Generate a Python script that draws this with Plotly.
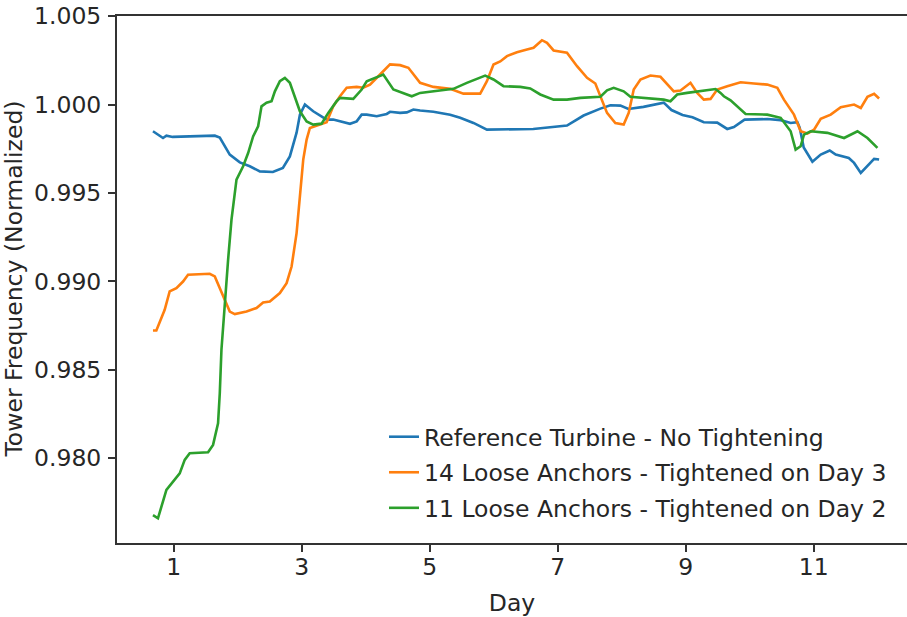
import plotly.graph_objects as go

# ---- data ----
ref_days = [0.676, 0.833, 0.886, 0.984, 1.642, 1.720, 1.876, 2.033, 2.189, 2.346, 2.549, 2.706,
            2.815, 2.920, 2.972, 3.050, 3.180, 3.390, 3.493, 3.754, 3.859, 3.937, 4.016, 4.172,
            4.329, 4.380, 4.537, 4.642, 4.745, 4.850, 5.058, 5.319, 5.476, 5.684, 5.894, 6.102,
            6.618, 7.145, 7.405, 7.667, 7.823, 7.980, 8.105, 8.340, 8.554, 8.657, 8.778, 8.950,
            9.106, 9.283, 9.493, 9.649, 9.753, 9.920, 10.275, 10.484, 10.640, 10.745, 10.781,
            10.844, 10.980, 11.110, 11.250, 11.344, 11.548, 11.631, 11.736, 11.840, 11.944, 12.022]
ref_freq = [0.99849, 0.99811, 0.99824, 0.99817, 0.99824, 0.99813, 0.99717, 0.99673, 0.99651, 0.99622,
            0.99619, 0.99642, 0.99707, 0.99841, 0.99943, 1.00000, 0.99962, 0.99915, 0.99915, 0.99891,
            0.99905, 0.99943, 0.99943, 0.99934, 0.99947, 0.99959, 0.99953, 0.99956, 0.99972, 0.99966,
            0.99959, 0.99943, 0.99925, 0.99896, 0.99858, 0.99858, 0.99862, 0.99881, 0.99938, 0.99977,
            0.99996, 0.99994, 0.99975, 0.99987, 1.00004, 1.00011, 0.99969, 0.99941, 0.99928, 0.99900,
            0.99898, 0.99862, 0.99873, 0.99915, 0.99918, 0.99912, 0.99896, 0.99900, 0.99870, 0.99757,
            0.99677, 0.99717, 0.99740, 0.99717, 0.99698, 0.99670, 0.99613, 0.99651, 0.99693, 0.99689]

a14_days = [0.676, 0.729, 0.859, 0.937, 1.042, 1.146, 1.224, 1.563, 1.642, 1.772, 1.876, 1.955,
            2.138, 2.294, 2.397, 2.502, 2.659, 2.764, 2.842, 2.920, 2.972, 3.024, 3.077, 3.128,
            3.285, 3.390, 3.493, 3.598, 3.703, 3.859, 3.962, 4.067, 4.224, 4.380, 4.537, 4.667,
            4.850, 5.058, 5.319, 5.527, 5.789, 5.894, 5.997, 6.102, 6.207, 6.363, 6.520, 6.623,
            6.754, 6.833, 6.936, 7.145, 7.302, 7.459, 7.588, 7.667, 7.771, 7.901, 8.031, 8.110,
            8.188, 8.293, 8.449, 8.606, 8.710, 8.814, 8.919, 9.075, 9.180, 9.283, 9.388, 9.493,
            9.649, 9.858, 10.066, 10.275, 10.432, 10.535, 10.692, 10.796, 10.901, 11.005, 11.110,
            11.266, 11.423, 11.631, 11.736, 11.840, 11.944, 12.022]
a14_freq = [0.98722, 0.98722, 0.98839, 0.98943, 0.98962, 0.98999, 0.99037, 0.99043, 0.99028, 0.98914,
            0.98829, 0.98815, 0.98829, 0.98849, 0.98880, 0.98886, 0.98934, 0.98990, 0.99084, 0.99273,
            0.99462, 0.99689, 0.99802, 0.99868, 0.99887, 0.99900, 0.99990, 1.00047, 1.00095, 1.00100,
            1.00095, 1.00113, 1.00170, 1.00227, 1.00223, 1.00208, 1.00123, 1.00100, 1.00089, 1.00062,
            1.00062, 1.00132, 1.00227, 1.00244, 1.00274, 1.00296, 1.00311, 1.00321, 1.00364, 1.00349,
            1.00306, 1.00293, 1.00217, 1.00151, 1.00119, 1.00047, 0.99953, 0.99896, 0.99887, 0.99953,
            1.00085, 1.00142, 1.00164, 1.00157, 1.00113, 1.00075, 1.00079, 1.00123, 1.00066, 1.00028,
            1.00032, 1.00085, 1.00104, 1.00126, 1.00119, 1.00113, 1.00095, 1.00028, 0.99943, 0.99849,
            0.99836, 0.99858, 0.99919, 0.99943, 0.99985, 1.00000, 0.99981, 1.00044, 1.00061, 1.00034]

a11_days = [0.676, 0.754, 0.886, 0.989, 1.094, 1.172, 1.250, 1.537, 1.615, 1.693, 1.720, 1.746,
            1.798, 1.850, 1.903, 1.981, 2.085, 2.163, 2.241, 2.319, 2.372, 2.451, 2.529, 2.581,
            2.659, 2.737, 2.815, 2.894, 2.972, 3.077, 3.180, 3.311, 3.415, 3.546, 3.598, 3.806,
            3.937, 4.016, 4.275, 4.432, 4.588, 4.720, 4.850, 5.163, 5.371, 5.580, 5.867, 5.997,
            6.153, 6.415, 6.571, 6.728, 6.936, 7.145, 7.354, 7.667, 7.771, 7.875, 8.031, 8.136,
            8.397, 8.657, 8.762, 8.867, 9.023, 9.231, 9.466, 9.544, 9.596, 9.701, 9.806, 9.936,
            10.275, 10.484, 10.640, 10.718, 10.796, 10.848, 10.953, 11.214, 11.474, 11.684,
            11.840, 11.996]
a11_freq = [0.97678, 0.97660, 0.97820, 0.97867, 0.97914, 0.97990, 0.98028, 0.98033, 0.98075, 0.98197,
            0.98367, 0.98613, 0.98896, 0.99122, 0.99349, 0.99575, 0.99651, 0.99726, 0.99820, 0.99877,
            0.99990, 1.00010, 1.00019, 1.00075, 1.00132, 1.00151, 1.00123, 1.00047, 0.99962, 0.99905,
            0.99887, 0.99892, 0.99953, 1.00019, 1.00038, 1.00032, 1.00085, 1.00132, 1.00170, 1.00085,
            1.00066, 1.00047, 1.00066, 1.00081, 1.00089, 1.00123, 1.00164, 1.00142, 1.00104, 1.00100,
            1.00091, 1.00057, 1.00028, 1.00028, 1.00038, 1.00044, 1.00081, 1.00095, 1.00075, 1.00044,
            1.00034, 1.00028, 1.00019, 1.00057, 1.00066, 1.00075, 1.00088, 1.00066, 1.00047, 1.00024,
            0.99990, 0.99947, 0.99943, 0.99925, 0.99849, 0.99745, 0.99764, 0.99830, 0.99849, 0.99840,
            0.99811, 0.99849, 0.99811, 0.99755]

series_names = ["Reference Turbine - No Tightening",
                "14 Loose Anchors - Tightened on Day 3",
                "11 Loose Anchors - Tightened on Day 2"]
series_colors = ["#1f77b4", "#ff7f0e", "#2ca02c"]
x_tick_vals = [1, 3, 5, 7, 9, 11]
y_tick_vals = [0.980, 0.985, 0.990, 0.995, 1.000, 1.005]
y_tick_text = ["0.980", "0.985", "0.990", "0.995", "1.000", "1.005"]
x_title = "Day"
y_title = "Tower Frequency (Normalized)"

FONT = "DejaVu Sans"
FS = 23.5
AX = "#333333"
TXT = "#262626"

fig = go.Figure()
for i, (xs, ys) in enumerate([(ref_days, ref_freq), (a14_days, a14_freq), (a11_days, a11_freq)]):
    fig.add_trace(go.Scatter(
        x=xs, y=ys, mode="lines", name=series_names[i], legendgroup=f"g{i}",
        line=dict(color=series_colors[i], width=2.6),
    ))

fig.update_layout(
    width=907, height=617,
    margin=dict(l=117, r=0, t=16, b=74),
    paper_bgcolor="white", plot_bgcolor="white",
    font=dict(family=FONT, size=FS, color=TXT),
    showlegend=True,
    legend=dict(
        x=0.338, y=0.243, xanchor="left", yanchor="top",
        bgcolor="rgba(255,255,255,0)", borderwidth=0,
        font=dict(family=FONT, size=FS, color=TXT),
        tracegroupgap=2,
    ),
    xaxis=dict(
        range=[0.114, 12.458], tickvals=x_tick_vals, ticktext=[str(v) for v in x_tick_vals],
        showgrid=False, zeroline=False, showline=True, linecolor=AX, linewidth=2,
        mirror=True, ticks="outside", ticklen=7, tickwidth=1.6, tickcolor=AX,
        ticklabelstandoff=-5,
        title=dict(text=x_title, standoff=14, font=dict(family=FONT, size=FS, color=TXT)),
    ),
    yaxis=dict(
        range=[0.97520, 1.00501], tickvals=y_tick_vals, ticktext=y_tick_text,
        showgrid=False, zeroline=False, showline=True, linecolor=AX, linewidth=2,
        mirror=False, ticks="outside", ticklen=7, tickwidth=1.6, tickcolor=AX,
        ticklabelstandoff=2,
    ),
    annotations=[dict(
        text=y_title, textangle=-90, xref="paper", yref="paper",
        x=-0.1316, y=0.5, xanchor="center", yanchor="middle", showarrow=False,
        font=dict(family=FONT, size=FS, color=TXT),
    )],
)

# remove the browser's default 8px page margin so the figure fills the window exactly
fig.write_html("out.html", config={"displayModeBar": False},
               post_script="document.body.style.margin='0';")
